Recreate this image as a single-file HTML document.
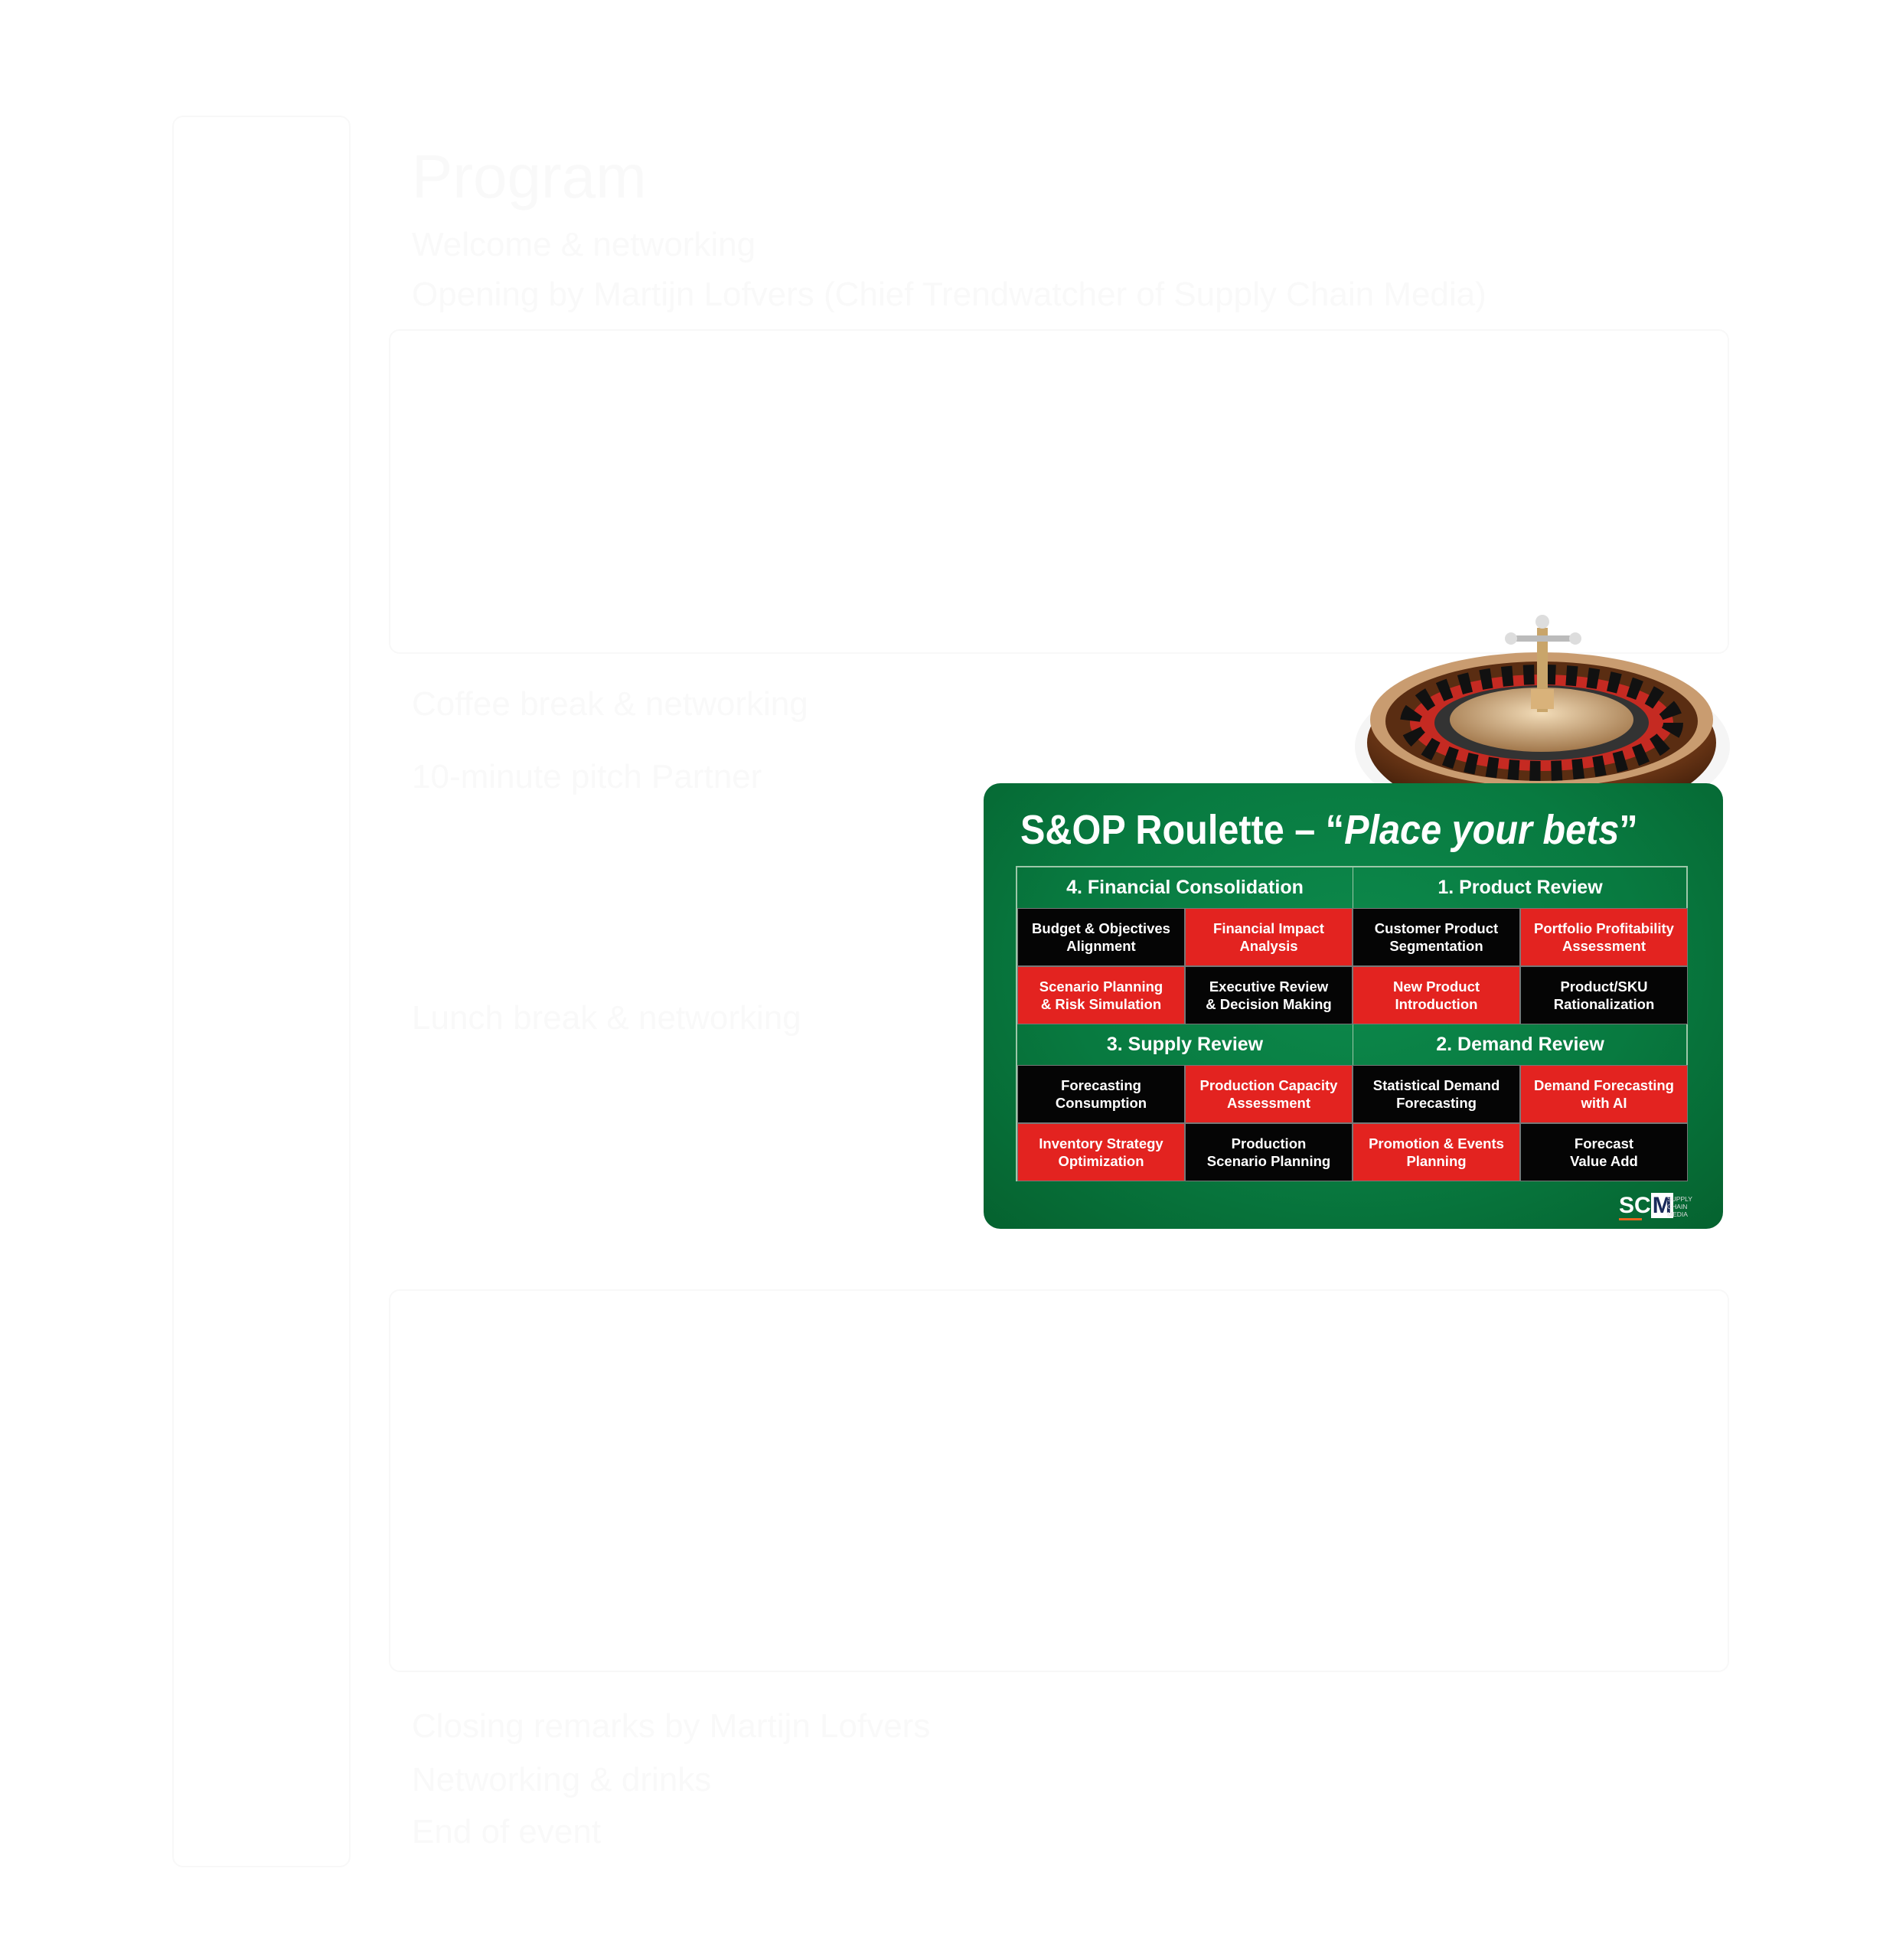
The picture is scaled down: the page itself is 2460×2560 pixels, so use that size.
<!DOCTYPE html>
<html><head><meta charset="utf-8"><style>
body{margin:0;width:2460px;height:2560px;background:#fff;position:relative;overflow:hidden;font-family:"Liberation Sans",sans-serif}
.f{position:absolute;color:#f9f9f9;font-size:44px;white-space:nowrap}
.box{position:absolute;border:2px solid #f8f8f8;border-radius:14px}
#card{position:absolute;left:1285px;top:1023px;width:966px;height:582px;border-radius:22px;background:radial-gradient(ellipse at 50% 40%,#0d8a4c 0%,#087a40 55%,#05622f 100%);overflow:hidden}
#title{position:absolute;left:48px;top:30px;color:#fff;font-weight:bold;font-size:54px;font-family:"Liberation Sans Narrow","Liberation Sans",sans-serif;transform:scaleX(0.9);transform-origin:left;white-space:nowrap}
#grid{position:absolute;left:42px;top:108px;width:878px;height:412px;border:2px solid #9cc7a8;box-sizing:border-box}
.c{position:absolute;display:flex;align-items:center;justify-content:center;text-align:center;color:#fff;font-weight:bold;font-size:18.5px;line-height:23px;box-sizing:border-box;border:1px solid #777}
.k{background:#050505}.r{background:#e32320}
.h{position:absolute;display:flex;align-items:center;justify-content:center;color:#fff;font-size:25px;font-weight:bold;font-family:"Liberation Sans Narrow","Liberation Sans",sans-serif;border-right:1px solid #9cc7a8}
</style></head><body>
<div class="box" style="left:225px;top:151px;width:229px;height:2284px"></div>
<div class="box" style="left:508px;top:430px;width:1747px;height:420px"></div>
<div class="box" style="left:508px;top:1684px;width:1747px;height:496px"></div>
<div class="f" style="left:538px;top:185px;font-size:80px">Program</div>
<div class="f" style="left:538px;top:295px">Welcome &amp; networking</div>
<div class="f" style="left:538px;top:360px">Opening by Martijn Lofvers (Chief Trendwatcher of Supply Chain Media)</div>
<div class="f" style="left:538px;top:895px">Coffee break &amp; networking</div>
<div class="f" style="left:538px;top:990px">10-minute pitch Partner</div>
<div class="f" style="left:538px;top:1305px">Lunch break &amp; networking</div>
<div class="f" style="left:538px;top:2230px">Closing remarks by Martijn Lofvers</div>
<div class="f" style="left:538px;top:2300px">Networking &amp; drinks</div>
<div class="f" style="left:538px;top:2368px">End of event</div>

<svg style="position:absolute;left:1760px;top:790px" width="520" height="290" viewBox="0 0 520 290">
<defs>
<radialGradient id="rim" cx="50%" cy="30%" r="70%"><stop offset="0" stop-color="#b07a4a"/><stop offset="0.6" stop-color="#7a3f1a"/><stop offset="1" stop-color="#3a1a08"/></radialGradient>
<radialGradient id="cone" cx="50%" cy="40%" r="60%"><stop offset="0" stop-color="#f2dcb8"/><stop offset="1" stop-color="#a2784c"/></radialGradient>
</defs>
<ellipse cx="255" cy="185" rx="245" ry="108" fill="#eee" opacity="0.6"/>
<ellipse cx="254" cy="180" rx="228" ry="102" fill="url(#rim)"/>
<ellipse cx="254" cy="150" rx="224" ry="88" fill="#c99c70"/>
<ellipse cx="254" cy="152" rx="204" ry="78" fill="#5a2d12"/>
<ellipse cx="254" cy="154" rx="172" ry="63" fill="#c52a22"/>
<ellipse cx="254" cy="154" rx="172" ry="63" fill="none" stroke="#111" stroke-width="26" stroke-dasharray="14 14"/>
<ellipse cx="254" cy="154" rx="140" ry="49" fill="#333"/>
<ellipse cx="254" cy="150" rx="120" ry="42" fill="url(#cone)"/>
<rect x="248" y="30" width="14" height="110" fill="#c9a56a"/>
<rect x="218" y="40" width="76" height="8" rx="4" fill="#bbb"/>
<circle cx="214" cy="44" r="8" fill="#ddd"/><circle cx="298" cy="44" r="8" fill="#ddd"/><circle cx="255" cy="22" r="9" fill="#ddd"/>
<rect x="240" y="110" width="30" height="26" fill="#d9b27a"/>
</svg>

<div id="card">
<div id="title">S&amp;OP Roulette – “<i>Place your bets</i>”</div>
<div id="grid">
<div class="h" style="left:0;top:0;width:438px;height:53px">4. Financial Consolidation</div>
<div class="h" style="left:438px;top:0;width:438px;height:53px;border:none">1. Product Review</div>
<div class="c k" style="left:0;top:53px;width:219px;height:76px">Budget &amp; Objectives<br>Alignment</div>
<div class="c r" style="left:219px;top:53px;width:219px;height:76px">Financial Impact<br>Analysis</div>
<div class="c k" style="left:438px;top:53px;width:219px;height:76px">Customer Product<br>Segmentation</div>
<div class="c r" style="left:657px;top:53px;width:219px;height:76px">Portfolio Profitability<br>Assessment</div>
<div class="c r" style="left:0;top:129px;width:219px;height:76px">Scenario Planning<br>&amp; Risk Simulation</div>
<div class="c k" style="left:219px;top:129px;width:219px;height:76px">Executive Review<br>&amp; Decision Making</div>
<div class="c r" style="left:438px;top:129px;width:219px;height:76px">New Product<br>Introduction</div>
<div class="c k" style="left:657px;top:129px;width:219px;height:76px">Product/SKU<br>Rationalization</div>
<div class="h" style="left:0;top:205px;width:438px;height:53px">3. Supply Review</div>
<div class="h" style="left:438px;top:205px;width:438px;height:53px;border:none">2. Demand Review</div>
<div class="c k" style="left:0;top:258px;width:219px;height:76px">Forecasting<br>Consumption</div>
<div class="c r" style="left:219px;top:258px;width:219px;height:76px">Production Capacity<br>Assessment</div>
<div class="c k" style="left:438px;top:258px;width:219px;height:76px">Statistical Demand<br>Forecasting</div>
<div class="c r" style="left:657px;top:258px;width:219px;height:76px">Demand Forecasting<br>with AI</div>
<div class="c r" style="left:0;top:334px;width:219px;height:76px">Inventory Strategy<br>Optimization</div>
<div class="c k" style="left:219px;top:334px;width:219px;height:76px">Production<br>Scenario Planning</div>
<div class="c r" style="left:438px;top:334px;width:219px;height:76px">Promotion &amp; Events<br>Planning</div>
<div class="c k" style="left:657px;top:334px;width:219px;height:76px">Forecast<br>Value Add</div>
</div>
<div style="position:absolute;left:830px;top:537px;color:#fff;font-weight:bold;font-size:30px;font-family:'Liberation Sans Narrow','Liberation Sans',sans-serif;line-height:30px">SC<span style="background:#fff;color:#1a2a5a;padding:0 2px">M</span></div>
<div style="position:absolute;left:893px;top:538px;color:#ddd;font-size:8.5px;line-height:10px">SUPPLY<br>CHAIN<br>MEDIA</div>
<div style="position:absolute;left:830px;top:568px;width:30px;height:3px;background:#e8641e"></div>
</div>
</body></html>
